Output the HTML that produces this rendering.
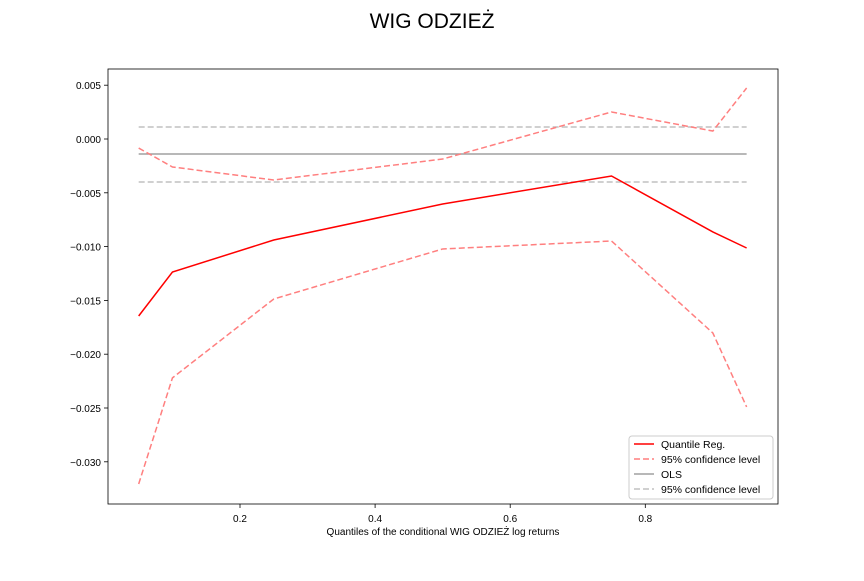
<!DOCTYPE html>
<html><head><meta charset="utf-8"><style>
body{margin:0;background:#fff;font-family:"Liberation Sans","DejaVu Sans",sans-serif}
svg text{font-family:"Liberation Sans","DejaVu Sans",sans-serif}
</style></head><body>
<svg id="chart" width="864" height="576" xmlns="http://www.w3.org/2000/svg">
<rect width="864" height="576" fill="#fff"/>
<text x="432" y="28" text-anchor="middle" font-size="21">WIG ODZIEŻ</text>
<g id="plot"></g>
</svg>
<script>
const quantiles=[0.05,0.1,0.25,0.5,0.75,0.9,0.95];
const qrCoef=[-0.01645,-0.01236,-0.00939,-0.00604,-0.00344,-0.00864,-0.01013];
const qrUpper=[-0.00084,-0.0026,-0.00381,-0.00186,0.00251,0.00074,0.00474];
const qrLower=[-0.03206,-0.0222,-0.01487,-0.01022,-0.00948,-0.01803,-0.0249];
const olsCoef=-0.00139;
const olsUpper=0.00111;
const olsLower=-0.0040;
const xTicks=[0.2,0.4,0.6,0.8];
const yTicks=[0.005,0,-0.005,-0.01,-0.015,-0.02,-0.025,-0.03];
const yTickLabels=["0.005","0.000","−0.005","−0.010","−0.015","−0.020","−0.025","−0.030"];

const L=108,R=778,T=69,B=504;
const sx=v=>240+(v-0.2)*675.5;
const sy=v=>139-v*10760;
const NS="http://www.w3.org/2000/svg";
const g=document.getElementById('plot');
function mk(t,a){const e=document.createElementNS(NS,t);for(const k in a)e.setAttribute(k,a[k]);g.appendChild(e);return e;}

xTicks.forEach((v,i)=>{
 const l=mk('line',{x1:sx(v),x2:sx(v),y1:B,y2:B+4,stroke:'#000','stroke-width':0.8});
 
 
 const t=mk('text',{x:sx(v),y:B+18,'text-anchor':'middle','font-size':10});
 t.textContent=v.toFixed(1);
 
 
});
yTicks.forEach((v,i)=>{
 const l=mk('line',{x1:L-4,x2:L,y1:sy(v),y2:sy(v),stroke:'#000','stroke-width':0.8});
 
 
 const t=mk('text',{x:L-7,y:sy(v)+4,'text-anchor':'end','font-size':10});
 t.textContent=yTickLabels[i];
 
 
});

function hline(v,dash,name){
 const l=mk('line',{x1:sx(0.05),x2:sx(0.95),y1:sy(v),y2:sy(v),stroke:dash?'#c0c0c0':'#a0a0a0','stroke-width':1.5});
 if(dash)l.setAttribute('stroke-dasharray','6,3');
 
 
}
hline(olsUpper,true,'ols-ci-upper');
hline(olsLower,true,'ols-ci-lower');
hline(olsCoef,false,'ols-line');

function series(vals,color,dash,name){
 const p=mk('polyline',{points:vals.map((v,i)=>sx(quantiles[i])+','+sy(v)).join(' '),fill:'none',stroke:color,'stroke-width':1.5});
 if(dash)p.setAttribute('stroke-dasharray','6,3');
 
 
}
series(qrUpper,'#ff7f7f',true,'qr-ci-upper');
series(qrLower,'#ff7f7f',true,'qr-ci-lower');
series(qrCoef,'#ff0000',false,'qr-line');

const fr=mk('rect',{x:L,y:T,width:R-L,height:B-T,fill:'none',stroke:'#000','stroke-width':0.8});


const xl=mk('text',{x:(L+R)/2,y:535,'text-anchor':'middle','font-size':10});
xl.textContent='Quantiles of the conditional WIG ODZIEŻ log returns';



const lg=mk('rect',{x:629,y:436,width:144,height:63,fill:'#fff',stroke:'#ccc',rx:3});


const entries=[['Quantile Reg.','#ff0000',false],['95% confidence level','#ff7f7f',true],['OLS','#a0a0a0',false],['95% confidence level','#c0c0c0',true]];
entries.forEach((e,i)=>{
 const y=444+i*15;
 const l=mk('line',{x1:634,x2:654,y1:y,y2:y,stroke:e[1],'stroke-width':1.5});
 if(e[2])l.setAttribute('stroke-dasharray','6,3');
 
 
 const t=mk('text',{x:661,y:y+4,'font-size':10.5});
 t.textContent=e[0];
 
 
});
</script>
</body></html>
